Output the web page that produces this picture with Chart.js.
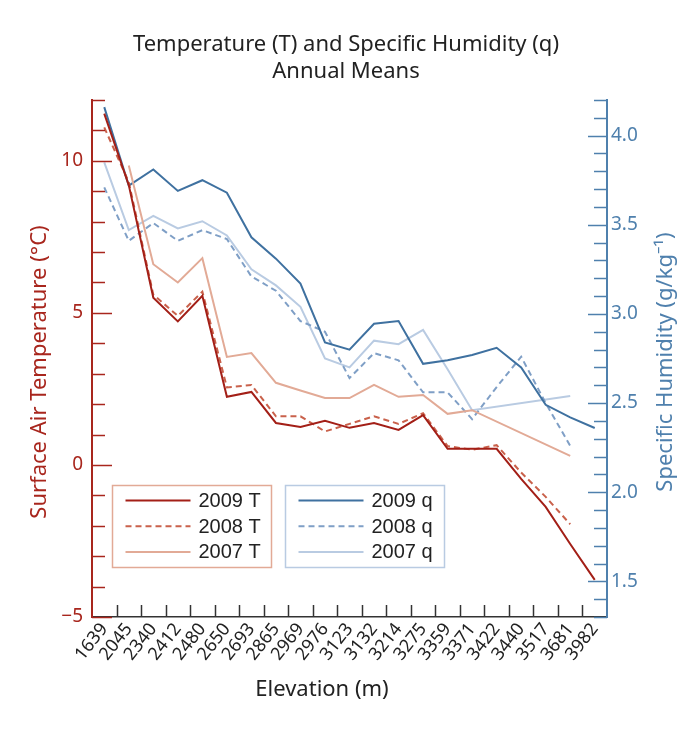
<!DOCTYPE html>
<html>
<head>
<meta charset="utf-8">
<script src="https://cdn.jsdelivr.net/npm/chart.js@4/dist/chart.umd.min.js"></script>
<style>
  html, body { margin: 0; padding: 0; background: #fff; }
  #wrap { width: 691px; height: 736px; }
</style>
</head>
<body>
<div id="wrap"><canvas id="chart" width="691" height="736"></canvas></div>
<script>
// elevation of each station (m)
const elevations = ["1639", "2045", "2340", "2412", "2480", "2650", "2693", "2865", "2969", "2976",
    "3123", "3132", "3214", "3275", "3359", "3371", "3422", "3440", "3517", "3681", "3982"];

// surface air temperature, annual mean (°C)
const temp2009 = [11.55, 9.2, 5.5, 4.72, 5.56, 2.24, 2.4, 1.38, 1.25, 1.45,
    1.22, 1.38, 1.15, 1.64, 0.53, 0.53, 0.53, -0.46, -1.38, -2.6, -3.78];
const temp2008 = [11.1, 9.3, 5.6, 4.9, 5.7, 2.55, 2.63, 1.6, 1.6, 1.1,
    1.35, 1.6, 1.35, 1.7, 0.62, 0.5, 0.65, -0.25, -1.05, -1.95, null];
const temp2007 = [null, 9.85, 6.6, 6.0, 6.8, 3.55, 3.68, 2.7, 2.45, 2.2,
    2.2, 2.63, 2.24, 2.3, 1.68, 1.8, null, null, null, 0.3, null];

// specific humidity, annual mean (g/kg)
const hum2009 = [4.16, 3.72, 3.81, 3.69, 3.75, 3.68, 3.43, 3.31, 3.17, 2.84,
    2.8, 2.945, 2.96, 2.72, 2.74, 2.77, 2.81, 2.7, 2.49, 2.42, 2.36];
const hum2008 = [3.71, 3.41, 3.51, 3.41, 3.47, 3.42, 3.21, 3.13, 2.96, 2.9,
    2.64, 2.78, 2.74, 2.56, 2.56, 2.41, 2.59, 2.76, 2.5, 2.26, null];
const hum2007 = [3.85, 3.47, 3.55, 3.48, 3.52, 3.44, 3.25, 3.16, 3.04, 2.75,
    2.7, 2.85, 2.83, 2.91, 2.69, 2.46, null, null, null, 2.54, null];

const RED = "#a8261d";
const BLUE = "#4f80ad";
const TXT = "#222";
const SANS = "'Noto Sans', 'Open Sans', sans-serif";

function line(label, data, color, axis, dash) {
    return {
        label: label,
        data: data,
        yAxisID: axis,
        borderColor: color,
        backgroundColor: color,
        borderWidth: 2,
        borderDash: dash || [],
        pointRadius: 0,
        tension: 0,
        spanGaps: true
    };
}

// title, axis titles, inward tick marks and the two legend boxes
const decor = {
    id: "decor",
    afterDraw(chart) {
        const ctx = chart.ctx;
        const area = chart.chartArea;
        const sy = chart.scales.y, sq = chart.scales.q;
        ctx.save();

        // tick marks drawn inside the plot
        ctx.lineWidth = 1.5;
        ctx.strokeStyle = RED;
        sy.ticks.forEach(t => {
            const y = Math.round(sy.getPixelForValue(t.value)) + 0.5;
            const len = (Math.round(t.value) % 5 === 0) ? 20 : 13;
            ctx.beginPath();
            ctx.moveTo(area.left, y);
            ctx.lineTo(area.left + len, y);
            ctx.stroke();
        });
        ctx.strokeStyle = BLUE;
        sq.ticks.forEach(t => {
            const y = Math.round(sq.getPixelForValue(t.value)) + 0.5;
            const len = (Math.round(t.value * 10) % 5 === 0) ? 19 : 13;
            ctx.beginPath();
            ctx.moveTo(area.right, y);
            ctx.lineTo(area.right - len, y);
            ctx.stroke();
        });
        ctx.strokeStyle = "#333";
        const w = (area.right - area.left) / elevations.length;
        for (let i = 1; i < elevations.length; i++) {
            const x = Math.round(area.left + i * w) + 0.5;
            ctx.beginPath();
            ctx.moveTo(x, area.bottom);
            ctx.lineTo(x, area.bottom - 12);
            ctx.stroke();
        }

        // chart title
        ctx.fillStyle = TXT;
        ctx.font = "22px " + SANS;
        ctx.textAlign = "center";
        ctx.textBaseline = "middle";
        ctx.fillText("Temperature (T) and Specific Humidity (q)", 346, 45);
        ctx.fillText("Annual Means", 346, 72);
        ctx.fillText("Elevation (m)", 322, 690);

        // axis titles, both reading bottom to top
        ctx.fillStyle = RED;
        ctx.translate(40, 372);
        ctx.rotate(-Math.PI / 2);
        ctx.fillText("Surface Air Temperature (°C)", 0, 0);
        ctx.setTransform(1, 0, 0, 1, 0, 0);
        ctx.fillStyle = BLUE;
        ctx.translate(666, 362);
        ctx.rotate(-Math.PI / 2);
        ctx.fillText("Specific Humidity (g/kg\u207B\u00B9)", 0, 0);
        ctx.setTransform(1, 0, 0, 1, 0, 0);

        // legends
        const sets = chart.data.datasets;
        drawLegendBox(ctx, sets.slice(0, 3), 112.5, 485.5, "#e2aa96");
        drawLegendBox(ctx, sets.slice(3, 6), 285.5, 485.5, "#b9cbe2");
        ctx.restore();
    }
};

function drawLegendBox(ctx, sets, x, y, border) {
    ctx.lineWidth = 1.5;
    ctx.strokeStyle = border;
    ctx.setLineDash([]);
    ctx.strokeRect(x, y, 159, 82);
    ctx.font = "20px 'Liberation Sans', Arial, sans-serif";
    ctx.textAlign = "left";
    ctx.textBaseline = "middle";
    sets.forEach((ds, i) => {
        const yy = y + 15 + i * 25.7;
        ctx.strokeStyle = ds.borderColor;
        ctx.lineWidth = 2;
        ctx.setLineDash(ds.borderDash);
        ctx.beginPath();
        ctx.moveTo(x + 13, yy);
        ctx.lineTo(x + 78, yy);
        ctx.stroke();
        ctx.setLineDash([]);
        ctx.fillStyle = TXT;
        ctx.fillText(ds.label, x + 86, yy + 1);
    });
}

new Chart(document.getElementById("chart"), {
    type: "line",
    data: {
        labels: elevations,
        datasets: [
            line("2009 T", temp2009, "#a31f17", "y"),
            line("2008 T", temp2008, "#c9614b", "y", [6, 4]),
            line("2007 T", temp2007, "#e2aa96", "y"),
            line("2009 q", hum2009, "#3f71a0", "q"),
            line("2008 q", hum2008, "#7f9fc6", "q", [6, 4]),
            line("2007 q", hum2007, "#b9cbe2", "q")
        ]
    },
    options: {
        responsive: false,
        animation: false,
        devicePixelRatio: 1,
        layout: { padding: { top: 100, left: 0, right: 0, bottom: 0 } },
        plugins: {
            legend: { display: false },
            title: { display: false },
            tooltip: { enabled: false }
        },
        scales: {
            x: {
                offset: true,
                grid: { display: false },
                border: { color: "#333", width: 1.5 },
                ticks: {
                    color: TXT,
                    font: { family: SANS, size: 18 },
                    minRotation: 52,
                    maxRotation: 52,
                    autoSkip: false,
                    padding: -6
                },
                afterFit(s) { s.height = 119; }
            },
            y: {
                position: "left",
                min: -5,
                max: 12,
                grid: { display: false },
                border: { color: RED, width: 2 },
                ticks: {
                    stepSize: 1,
                    autoSkip: false,
                    color: RED,
                    padding: 1,
                    font: { family: SANS, size: 19 },
                    callback: v => (Math.round(v) % 5 === 0) ? (v < 0 ? "\u2212" + Math.abs(v) : String(v)) : ""
                },
                afterFit(s) { s.width = 92; }
            },
            q: {
                position: "right",
                min: 1.3,
                max: 4.2,
                grid: { display: false },
                border: { color: BLUE, width: 2 },
                ticks: {
                    stepSize: 0.1,
                    autoSkip: false,
                    color: BLUE,
                    padding: -4,
                    font: { family: SANS, size: 19 },
                    callback: v => {
                        const r = Math.round(v * 10);
                        return r % 5 === 0 ? (r / 10).toFixed(1) : "";
                    }
                },
                afterFit(s) { s.width = 84; }
            }
        }
    },
    plugins: [decor]
});
</script>
</body>
</html>
